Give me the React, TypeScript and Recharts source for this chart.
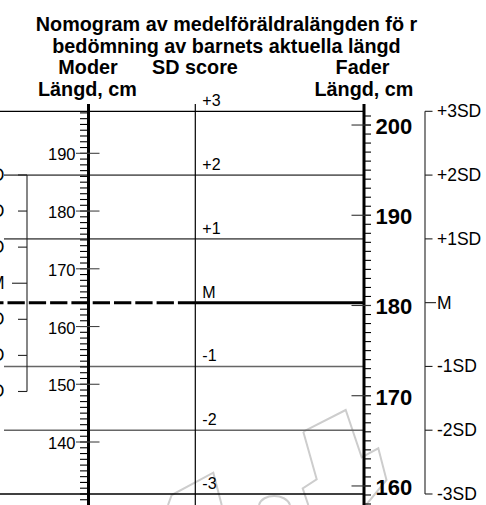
import React from 'react';
import { ComposedChart, XAxis, YAxis, ReferenceLine } from 'recharts';

// ---------- data ----------
const SD_LEVELS = [3, 2, 1, 0, -1, -2, -3];
const SD_SCORE_LABELS = ['+3', '+2', '+1', 'M', '-1', '-2', '-3'];
const SD_BRACKET_LABELS = ['+3SD', '+2SD', '+1SD', 'M', '-1SD', '-2SD', '-3SD'];
const MOTHER_SD_HEIGHTS = [186.25, 180, 173.75, 167.5, 161.25, 155, 148.75];
const MODER_LABELED = [140, 150, 160, 170, 180, 190];
const FADER_LABELED = [160, 170, 180, 190, 200];
const MODER_TICK_RANGE = [130, 197];
const FADER_TICK_RANGE = [158, 201];
const SD_DOMAIN = [-3.1726, 3.1146];
const MODER_DOMAIN = [129.09, 198.54];
const FADER_DOMAIN = [157.89, 202.33];
const TITLE_LINES = ['Nomogram av medelföräldralängden fö r', 'bedömning av barnets aktuella längd'];
const COLUMN_HEADS = ['Moder', 'SD score', 'Fader'];
const UNIT_LABEL = 'Längd, cm';

// ---------- layout ----------
const W = 486;
const H = 505;
const TOP = 104;
const FONT = '"Liberation Sans", Arial, Helvetica, sans-serif';
const X = { momBracket: 27, moder: 88.5, sd: 195.3, fader: 364, dadBracket: 425 };
// faint background watermark outline (decoration only)
const WATERMARK_PATHS = [
  'M303.3,431.7 L345.7,410 L361.7,457.3 L378.3,448.3 L386.5,480 L366,505',
  'M303.3,431.7 L316.7,479.3 L302.7,488.3 L308.3,505',
  'M168,505 L171.7,495 L213.3,472.7 L221.7,505',
  'M259,505 C262,493 286,493 290,505',
];

const range = (a: number, b: number) => {
  const out: number[] = [];
  for (let v = a; v <= b; v++) out.push(v);
  return out;
};

const textLabel =
  (text: string, opts: { side: 'left' | 'right' | 'above'; dx: number; dy?: number; size: number; weight?: number }) =>
  (props: any) => {
    const vb = props.viewBox || {};
    let x: number;
    let anchor: 'start' | 'end' = 'start';
    if (opts.side === 'left') {
      x = vb.x - opts.dx;
      anchor = 'end';
    } else if (opts.side === 'right') {
      x = vb.x + (vb.width || 0) + opts.dx;
    } else {
      x = vb.x + opts.dx;
    }
    const y = vb.y + (opts.dy ?? 0);
    return (
      <text
        x={x}
        y={y}
        textAnchor={anchor}
        dominantBaseline={opts.side === 'above' ? 'auto' : 'central'}
        fontFamily={FONT}
        fontSize={opts.size}
        fontWeight={opts.weight ?? 400}
        fill="#000"
      >
        {text}
      </text>
    );
  };

export default function App() {
  const chartData = SD_LEVELS.map((sd) => ({ x: X.sd, sd }));
  const moderTicks = range(MODER_TICK_RANGE[0], MODER_TICK_RANGE[1]);
  const faderTicks = range(FADER_TICK_RANGE[0], FADER_TICK_RANGE[1]);

  return (
    <div style={{ position: 'absolute', left: 0, top: 0, width: W, height: H, background: '#fff' }}>
      <ComposedChart width={W} height={H} data={chartData} margin={{ top: TOP, right: 0, bottom: 0, left: 0 }}>
        <XAxis xAxisId={0} dataKey="x" type="number" domain={[0, W]} hide allowDataOverflow />
        <YAxis yAxisId="sd" dataKey="sd" type="number" domain={SD_DOMAIN} hide allowDataOverflow />
        <YAxis yAxisId="mom" type="number" domain={MODER_DOMAIN} hide allowDataOverflow />
        <YAxis yAxisId="dad" type="number" domain={FADER_DOMAIN} hide allowDataOverflow />

        {WATERMARK_PATHS.map((d, i) => (
          <path key={`wm${i}`} d={d} fill="none" stroke="#cdcdcd" strokeWidth={2} strokeLinejoin="miter" />
        ))}

        {/* horizontal SD score lines */}
        {SD_LEVELS.map((s, i) =>
          s === 0 ? null : (
            <ReferenceLine
              key={`sdl${i}`}
              yAxisId="sd"
              segment={[{ x: Math.abs(s) === 3 ? 0 : 4, y: s }, { x: X.fader, y: s }]}
              stroke={Math.abs(s) === 3 ? '#000' : '#666'}
              strokeWidth={Math.abs(s) === 3 ? 1.3 : 1.6}
              ifOverflow="visible"
            />
          )
        )}
        <ReferenceLine
          yAxisId="sd"
          segment={[{ x: 0, y: 0 }, { x: X.sd, y: 0 }]}
          stroke="#000"
          strokeWidth={3}
          strokeDasharray="17.3 4"
          strokeDashoffset={13.8}
          ifOverflow="visible"
        />
        <ReferenceLine
          yAxisId="sd"
          segment={[{ x: X.sd, y: 0 }, { x: X.fader, y: 0 }]}
          stroke="#000"
          strokeWidth={3}
          ifOverflow="visible"
        />

        {/* SD score axis */}
        <ReferenceLine yAxisId="sd" x={X.sd} stroke="#000" strokeWidth={1.2} ifOverflow="visible" />
        {SD_LEVELS.map((s, i) => (
          <ReferenceLine
            key={`sdlab${i}`}
            yAxisId="sd"
            segment={[{ x: X.sd, y: s }, { x: X.sd + 1, y: s }]}
            stroke="none"
            ifOverflow="visible"
            label={textLabel(SD_SCORE_LABELS[i], { side: 'above', dx: 7, dy: -5, size: 16 })}
          />
        ))}

        {/* Moder axis */}
        <ReferenceLine yAxisId="mom" x={X.moder} stroke="#000" strokeWidth={3} ifOverflow="visible" />
        {moderTicks.map((v) => (
          <ReferenceLine
            key={`mt${v}`}
            yAxisId="mom"
            segment={[{ x: X.moder - 8.5, y: v }, { x: X.moder, y: v }]}
            stroke="#000"
            strokeWidth={1.1}
            ifOverflow="visible"
          />
        ))}
        {MODER_LABELED.map((v) => (
          <ReferenceLine
            key={`mj${v}`}
            yAxisId="mom"
            segment={[{ x: X.moder - 12.5, y: v }, { x: X.moder + 11, y: v }]}
            stroke="#444"
            strokeWidth={1.1}
            ifOverflow="visible"
            label={textLabel(String(v), { side: 'left', dx: 0.5, dy: 1, size: 16.5 })}
          />
        ))}

        {/* Fader axis */}
        <ReferenceLine yAxisId="dad" x={X.fader} stroke="#000" strokeWidth={3} ifOverflow="visible" />
        {faderTicks.map((v) => (
          <ReferenceLine
            key={`ft${v}`}
            yAxisId="dad"
            segment={[{ x: X.fader, y: v }, { x: X.fader + 7, y: v }]}
            stroke="#000"
            strokeWidth={1.1}
            ifOverflow="visible"
          />
        ))}
        {FADER_LABELED.map((v) => (
          <ReferenceLine
            key={`fj${v}`}
            yAxisId="dad"
            segment={[{ x: X.fader - 12.5, y: v }, { x: X.fader + 7, y: v }]}
            stroke="#333"
            strokeWidth={1.1}
            ifOverflow="visible"
            label={textLabel(String(v), { side: 'right', dx: 4.5, dy: 1.5, size: 22, weight: 700 })}
          />
        ))}

        {/* father SD bracket (right) */}
        <ReferenceLine
          yAxisId="sd"
          segment={[{ x: X.dadBracket, y: SD_LEVELS[0] }, { x: X.dadBracket, y: SD_LEVELS[SD_LEVELS.length - 1] }]}
          stroke="#222"
          strokeWidth={1.1}
          ifOverflow="visible"
        />
        {SD_LEVELS.map((s, i) => (
          <ReferenceLine
            key={`db${i}`}
            yAxisId="sd"
            segment={[{ x: X.dadBracket, y: s }, { x: X.dadBracket + (s === 0 ? 11 : 7.5), y: s }]}
            stroke="#222"
            strokeWidth={1.1}
            ifOverflow="visible"
            label={textLabel(SD_BRACKET_LABELS[i], { side: 'right', dx: s === 0 ? 1 : 4.5, dy: 0, size: 17.5 })}
          />
        ))}

        {/* mother SD bracket (left) */}
        <ReferenceLine
          yAxisId="mom"
          segment={[
            { x: X.momBracket, y: MOTHER_SD_HEIGHTS[0] },
            { x: X.momBracket, y: MOTHER_SD_HEIGHTS[MOTHER_SD_HEIGHTS.length - 1] },
          ]}
          stroke="#222"
          strokeWidth={1.1}
          ifOverflow="visible"
        />
        {MOTHER_SD_HEIGHTS.map((v, i) => (
          <ReferenceLine
            key={`mb${i}`}
            yAxisId="mom"
            segment={[{ x: X.momBracket - (i === 3 ? 15 : 9), y: v }, { x: X.momBracket, y: v }]}
            stroke="#222"
            strokeWidth={1.1}
            ifOverflow="visible"
            label={textLabel(SD_BRACKET_LABELS[i], { side: 'left', dx: i === 3 ? 7.5 : 13.5, dy: 0, size: 17.5 })}
          />
        ))}

        {/* titles */}
        <text x={226.5} y={31} textAnchor="middle" fontFamily={FONT} fontSize={19.8} fontWeight={700} fill="#000">
          {TITLE_LINES[0]}
        </text>
        <text x={226.5} y={53} textAnchor="middle" fontFamily={FONT} fontSize={19.8} fontWeight={700} fill="#000">
          {TITLE_LINES[1]}
        </text>
        <text x={88} y={74} textAnchor="middle" fontFamily={FONT} fontSize={19.8} fontWeight={700} fill="#000">
          {COLUMN_HEADS[0]}
        </text>
        <text x={195} y={74} textAnchor="middle" fontFamily={FONT} fontSize={19.8} fontWeight={700} fill="#000">
          {COLUMN_HEADS[1]}
        </text>
        <text x={362.5} y={74} textAnchor="middle" fontFamily={FONT} fontSize={19.8} fontWeight={700} fill="#000">
          {COLUMN_HEADS[2]}
        </text>
        <text x={87.5} y={96} textAnchor="middle" fontFamily={FONT} fontSize={19.8} fontWeight={700} fill="#000">
          {UNIT_LABEL}
        </text>
        <text x={364} y={96} textAnchor="middle" fontFamily={FONT} fontSize={19.8} fontWeight={700} fill="#000">
          {UNIT_LABEL}
        </text>
      </ComposedChart>
    </div>
  );
}
